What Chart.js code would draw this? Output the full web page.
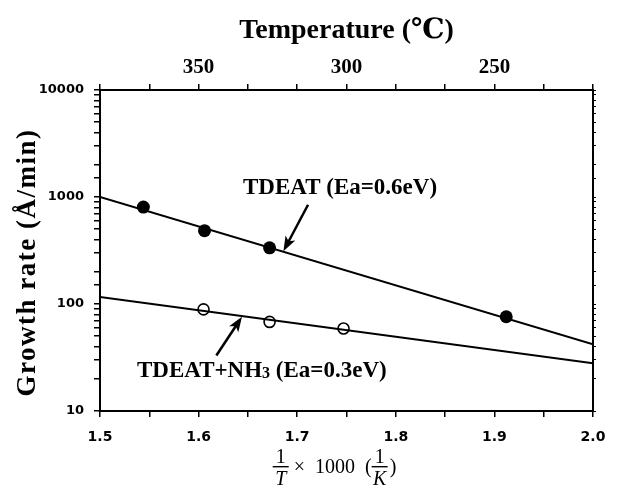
<!DOCTYPE html>
<html>
<head>
<meta charset="utf-8">
<script src="https://cdn.jsdelivr.net/npm/chart.js@4"></script>
<style>
  html, body { margin: 0; padding: 0; background: #fff; }
  #wrap { width: 618px; height: 499px; }
</style>
</head>
<body>
<div id="wrap"><canvas id="chart" width="618" height="499"></canvas></div>
<script>
// fitted lines, end points at 1000/T = 1.5 and 2.0
const fitX = [1.5, 2.0];
const tdeatFit = [1000, 42];
const nh3Fit = [116, 28];

// measured growth rates
const tdeatX = [1.544, 1.606, 1.672, 1.912];
const tdeatY = [805, 485, 335, 76];
const nh3X = [1.605, 1.672, 1.747];
const nh3Y = [89, 68, 59];

// arrows, [tail, head]
const tdeatArrowX = [1.711, 1.686];
const tdeatArrowY = [847, 311];
const nh3ArrowX = [1.618, 1.644];
const nh3ArrowY = [33, 76];

// labels in the plot
const tdeatLabel = 'TDEAT (Ea=0.6eV)';
const tdeatLabelAt = [1.645, 1220];
const nh3LabelParts = ['TDEAT+NH', '3', ' (Ea=0.3eV)'];
const nh3LabelAt = [1.5375, 23.5];

// axes
const xTicks = ['1.5', '1.6', '1.7', '1.8', '1.9', '2.0'];
const yTicks = [10, 100, 1000, 10000];
const topTickPos = [1.6, 1.75, 1.9];
const topTickLabels = ['350', '300', '250'];
const topTitle = 'Temperature (\u2103)';
const yTitle = 'Growth rate (\u00c5/min)';

const toPts = (xs, ys) => xs.map((x, i) => ({ x: x, y: ys[i] }));
const SERIF = '"Liberation Serif", "DejaVu Serif", serif';

const drawFrac = (ctx, num, den, x, barY) => {
  ctx.font = '20px ' + SERIF;
  ctx.textAlign = 'center';
  ctx.textBaseline = 'alphabetic';
  ctx.fillText(num, x + 8, barY - 4);
  ctx.font = 'italic 20px ' + SERIF;
  ctx.fillText(den, x + 8, barY + 18);
  ctx.fillRect(x, barY - 1, 16, 1.4);
  return 16;
};

const annotate = {
  id: 'annotate',
  afterDatasetsDraw(chart) {
    const { ctx, chartArea } = chart;
    const x = chart.scales.x, y = chart.scales.y;
    ctx.save();
    ctx.fillStyle = '#000';
    ctx.strokeStyle = '#000';

    // arrows
    [[tdeatArrowX, tdeatArrowY], [nh3ArrowX, nh3ArrowY]].forEach(([ax, ay]) => {
      const x0 = x.getPixelForValue(ax[0]), y0 = y.getPixelForValue(ay[0]);
      const x1 = x.getPixelForValue(ax[1]), y1 = y.getPixelForValue(ay[1]);
      const a = Math.atan2(y1 - y0, x1 - x0);
      const len = 15, w = 5.5;
      ctx.lineWidth = 2.5;
      ctx.beginPath();
      ctx.moveTo(x0, y0);
      ctx.lineTo(x1 - Math.cos(a) * len * 0.7, y1 - Math.sin(a) * len * 0.7);
      ctx.stroke();
      ctx.beginPath();
      ctx.moveTo(x1, y1);
      ctx.lineTo(x1 - len * Math.cos(a) + w * Math.sin(a), y1 - len * Math.sin(a) - w * Math.cos(a));
      ctx.lineTo(x1 - len * 0.75 * Math.cos(a), y1 - len * 0.75 * Math.sin(a));
      ctx.lineTo(x1 - len * Math.cos(a) - w * Math.sin(a), y1 - len * Math.sin(a) + w * Math.cos(a));
      ctx.closePath();
      ctx.fill();
    });

    // series labels
    ctx.textAlign = 'left';
    ctx.textBaseline = 'middle';
    ctx.font = 'bold 23px ' + SERIF;
    ctx.fillText(tdeatLabel, x.getPixelForValue(tdeatLabelAt[0]), y.getPixelForValue(tdeatLabelAt[1]));

    let lx = x.getPixelForValue(nh3LabelAt[0]);
    const ly = y.getPixelForValue(nh3LabelAt[1]);
    ctx.fillText(nh3LabelParts[0], lx, ly);
    lx += ctx.measureText(nh3LabelParts[0]).width;
    ctx.font = 'bold 16px ' + SERIF;
    ctx.fillText(nh3LabelParts[1], lx, ly + 3);
    lx += ctx.measureText(nh3LabelParts[1]).width;
    ctx.font = 'bold 23px ' + SERIF;
    ctx.fillText(nh3LabelParts[2], lx, ly);

    // axis titles
    const cx = (chartArea.left + chartArea.right) / 2;
    ctx.textAlign = 'center';
    ctx.font = 'bold 28px ' + SERIF;
    ctx.fillText(topTitle, cx, 31);

    ctx.save();
    ctx.translate(28, (chartArea.top + chartArea.bottom) / 2 + 12);
    ctx.rotate(-Math.PI / 2);
    ctx.font = 'bold 27px ' + SERIF;
    ctx.letterSpacing = '1.5px';
    ctx.fillText(yTitle, 0, 0);
    ctx.restore();

    // 1/T x 1000 (1/K)
    ctx.font = '20px ' + SERIF;
    const mid = ' \u00d7  1000  (';
    const midW = ctx.measureText(mid).width;
    const closeW = ctx.measureText(')').width;
    const total = 16 + midW + 16 + closeW + 2;
    let bx = cx - 12 - total / 2;
    const barY = 467;
    bx += drawFrac(ctx, '1', 'T', bx, barY);
    ctx.font = '20px ' + SERIF;
    ctx.textAlign = 'left';
    ctx.textBaseline = 'alphabetic';
    ctx.fillText(mid, bx, barY + 6);
    bx += midW;
    bx += drawFrac(ctx, '1', 'K', bx, barY);
    ctx.font = '20px ' + SERIF;
    ctx.textAlign = 'left';
    ctx.fillText(')', bx + 2, barY + 6);

    ctx.restore();
  }
};

const axisBase = {
  border: { display: true, color: '#000', width: 2 },
  grid: { drawOnChartArea: false, color: '#000', lineWidth: 1.5, tickLength: 6 }
};
const tickFontSans = { family: '"DejaVu Sans", sans-serif', weight: 'bold' };

new Chart(document.getElementById('chart'), {
  type: 'scatter',
  data: {
    datasets: [
      { data: toPts(fitX, tdeatFit), showLine: true, borderColor: '#000', borderWidth: 2, pointRadius: 0 },
      { data: toPts(fitX, nh3Fit), showLine: true, borderColor: '#000', borderWidth: 2, pointRadius: 0 },
      { data: toPts(tdeatX, tdeatY), pointRadius: 6.5, pointBackgroundColor: '#000', pointBorderColor: '#000', pointBorderWidth: 0 },
      { data: toPts(nh3X, nh3Y), pointRadius: 5.5, pointBackgroundColor: '#fff', pointBorderColor: '#000', pointBorderWidth: 1.6 }
    ]
  },
  options: {
    responsive: false,
    animation: false,
    layout: { padding: 0 },
    plugins: { legend: { display: false }, tooltip: { enabled: false } },
    scales: {
      x: {
        ...axisBase, type: 'linear', position: 'bottom', min: 1.5, max: 2.0,
        afterFit: s => { s.height = 88; },
        ticks: {
          stepSize: 0.05, autoSkip: false, maxRotation: 0, padding: 12, color: '#000',
          font: { ...tickFontSans, size: 14 },
          callback: v => { const i = Math.round((v - 1.5) * 20); return i % 2 === 0 ? xTicks[i / 2] : ''; }
        }
      },
      x2: {
        ...axisBase, type: 'linear', position: 'top', min: 1.5, max: 2.0,
        afterFit: s => { s.height = 90; },
        ticks: {
          stepSize: 0.05, autoSkip: false, maxRotation: 0, padding: 4, color: '#000',
          font: { family: SERIF, size: 21, weight: 'bold' },
          callback: v => { const k = topTickPos.findIndex(p => Math.abs(p - v) < 1e-6); return k >= 0 ? topTickLabels[k] : ''; }
        }
      },
      y: {
        ...axisBase, type: 'logarithmic', position: 'left', min: 10, max: 10000,
        afterFit: s => { s.width = 100; },
        ticks: {
          autoSkip: false, padding: 10, color: '#000',
          font: { ...tickFontSans, size: 13 },
          callback: v => yTicks.includes(v) ? String(v) : ''
        }
      },
      y2: {
        ...axisBase, type: 'logarithmic', position: 'right', min: 10, max: 10000,
        afterFit: s => { s.width = 25; },
        grid: { drawOnChartArea: false, color: '#000', lineWidth: 1, tickLength: 3 },
        ticks: { autoSkip: false, padding: 0, callback: () => '' }
      }
    }
  },
  plugins: [annotate]
});
</script>
</body>
</html>
